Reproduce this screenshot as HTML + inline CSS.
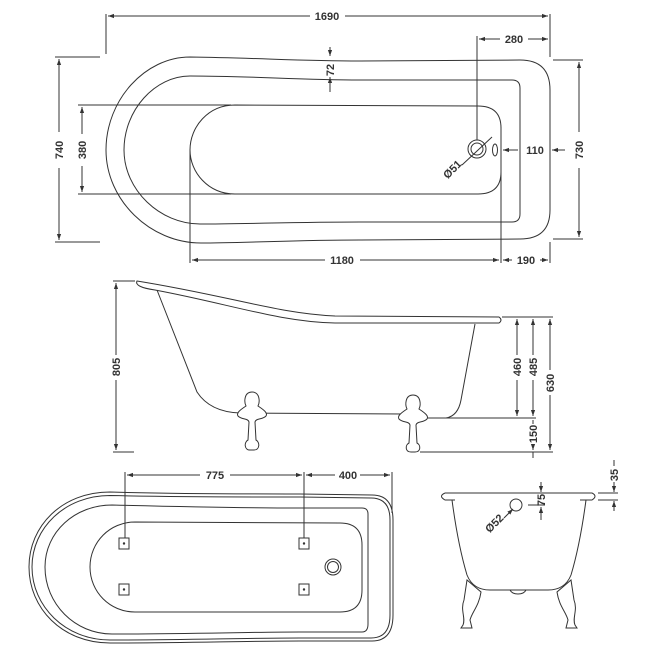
<!DOCTYPE html>
<html><head><meta charset="utf-8"><style>
html,body{margin:0;padding:0;background:#fff;}
svg{display:block;}
text{font-family:"Liberation Sans",sans-serif;font-size:11px;font-weight:bold;fill:#333;}
</style></head><body>
<svg width="650" height="650" viewBox="0 0 650 650" xmlns="http://www.w3.org/2000/svg">
<defs>
<marker id="a" viewBox="0 0 10 10" refX="10" refY="5" markerWidth="6" markerHeight="6" orient="auto-start-reverse"><path d="M0,1.5 L10,5 L0,8.5 Z" fill="#333"/></marker>
</defs>
<g fill="none" stroke="#333" stroke-width="1">
<!-- TOP VIEW -->
<path d="M190,57 C260,58 300,61 360,61 L520,60 Q550,60 550,90 L550,210 Q550,239 520,239 L360,240 C300,240 240,243 201,243 C150,243 106,200 106,150 C106,100 145,57 190,57 Z"/>
<path d="M190,76 C250,76 300,80 360,80 L512,80 Q520,80 520,88 L520,214 Q520,222 512,222 L360,222 C300,222 240,224 200,224 C160,224 124,190 124,150 C124,110 155,76 190,76 Z"/>
<path d="M235,105 L478,106 Q501,106 501,128 L501,172 Q501,194 478,194 L235,194 C208,194 190,172 190,150 C190,127 208,105 235,105 Z"/>
<circle cx="477" cy="149" r="9"/><circle cx="477" cy="149" r="6"/>
<ellipse cx="495" cy="150" rx="2.5" ry="6"/>
<line x1="462" y1="165" x2="492" y2="137"/>
<!-- top dims -->
<line x1="106" y1="14" x2="106" y2="54"/><line x1="550" y1="14" x2="550" y2="57"/>
<line x1="108" y1="16" x2="310" y2="16" marker-start="url(#a)"/><line x1="345" y1="16" x2="548" y2="16" marker-end="url(#a)"/>
<line x1="477" y1="36" x2="477" y2="140"/>
<line x1="479" y1="39" x2="500" y2="39" marker-start="url(#a)"/><line x1="528" y1="39" x2="548" y2="39" marker-end="url(#a)"/>
<line x1="330" y1="47" x2="330" y2="56" marker-end="url(#a)"/><line x1="330" y1="92" x2="330" y2="77" marker-end="url(#a)"/>
<line x1="55" y1="57" x2="100" y2="57"/><line x1="55" y1="242" x2="100" y2="242"/>
<line x1="59" y1="59" x2="59" y2="132" marker-start="url(#a)"/><line x1="59" y1="168" x2="59" y2="240" marker-end="url(#a)"/>
<line x1="78" y1="105" x2="231" y2="105"/><line x1="78" y1="194" x2="231" y2="194"/>
<line x1="82" y1="107" x2="82" y2="134" marker-start="url(#a)"/><line x1="82" y1="166" x2="82" y2="192" marker-end="url(#a)"/>
<line x1="553" y1="60" x2="583" y2="60"/><line x1="553" y1="239" x2="583" y2="239"/>
<line x1="579" y1="62" x2="579" y2="132" marker-start="url(#a)"/><line x1="579" y1="168" x2="579" y2="237" marker-end="url(#a)"/>
<line x1="501" y1="127" x2="501" y2="263"/>
<line x1="518" y1="150" x2="503" y2="150" marker-end="url(#a)"/><line x1="565" y1="150" x2="552" y2="150" marker-end="url(#a)"/>
<line x1="190" y1="150" x2="190" y2="263"/><line x1="550" y1="242" x2="550" y2="263"/>
<line x1="192" y1="260" x2="325" y2="260" marker-start="url(#a)"/><line x1="360" y1="260" x2="499" y2="260" marker-end="url(#a)"/>
<line x1="503" y1="260" x2="512" y2="260" marker-start="url(#a)"/><line x1="540" y1="260" x2="548" y2="260" marker-end="url(#a)"/>

<!-- SIDE VIEW -->
<path d="M137,281 C230,296 280,314 335,316 L499,317 Q503,320 499,323 L335,323 C280,322 230,304 155,290 Q134,287 137,281 Z"/>
<path d="M157,290 L197,392 Q210,412 240,413 L405,414"/>
<path d="M475,324 L461,400 Q458,416 446,418 L425,418"/>
<g fill="#fff">
<path d="M252,392 C244,392 244,402 246,406 C240,410 236,413 238,416 C242,420 248,418 249,422 L248,440 C244,442 244,450 250,450 L254,450 C260,450 260,442 256,440 L255,422 C256,418 262,420 266,416 C268,413 264,410 258,406 C260,402 260,392 252,392 Z"/>
<path d="M413,395 C405,395 405,405 407,409 C401,413 397,416 399,419 C403,423 409,421 410,425 L409,443 C405,445 405,452 411,452 L415,452 C421,452 421,445 417,443 L416,425 C417,421 423,423 427,419 C429,416 425,413 419,409 C421,405 421,395 413,395 Z"/>
</g>
<line x1="113" y1="281" x2="135" y2="281"/><line x1="113" y1="452" x2="134" y2="452"/>
<line x1="116" y1="283" x2="116" y2="355" marker-start="url(#a)"/><line x1="116" y1="380" x2="116" y2="450" marker-end="url(#a)"/>
<line x1="502" y1="317" x2="553" y2="317"/><line x1="432" y1="418" x2="536" y2="418"/><line x1="420" y1="452" x2="553" y2="452"/>
<line x1="517" y1="319" x2="517" y2="355" marker-start="url(#a)"/><line x1="517" y1="380" x2="517" y2="416" marker-end="url(#a)"/>
<line x1="533" y1="319" x2="533" y2="355" marker-start="url(#a)"/><line x1="533" y1="380" x2="533" y2="416" marker-end="url(#a)"/>
<line x1="533" y1="420" x2="533" y2="424"/><line x1="533" y1="444" x2="533" y2="450" marker-end="url(#a)"/><line x1="533" y1="452" x2="533" y2="458"/>
<line x1="550" y1="319" x2="550" y2="370" marker-start="url(#a)"/><line x1="550" y1="395" x2="550" y2="450" marker-end="url(#a)"/>

<!-- BOTTOM PLAN VIEW -->
<path d="M110,492 C180,494 250,494 300,494 L372,495 Q393,495 393,520 L393,615 Q393,641 372,641 L300,641 C250,641 180,643 110,643 C62,643 29,608 29,567 C29,526 62,492 110,492 Z"/>
<path d="M110,495.5 C180,497 250,497 300,497 L371,498 Q390,498 390,520 L390,615 Q390,638 371,638 L300,638 C250,638 180,640 110,640 C65,640 32,606 32,567 C32,528 65,495.5 110,495.5 Z"/>
<path d="M112,505 C190,507 250,508 300,508 L362,508 Q368,508 368,514 L368,624 Q368,632 362,632 L300,632 C250,632 190,634 112,634 C75,634 45,604 45,567 C45,532 75,505 112,505 Z"/>
<path d="M135,522 L340,523 Q362,523 362,545 L362,590 Q362,612 340,612 L135,612 C110,612 90,592 90,567 C90,542 110,522 135,522 Z"/>
<circle cx="333" cy="567" r="8"/><circle cx="333" cy="567" r="5.5"/>
<g>
<rect x="119" y="538" width="10" height="11"/><rect x="299" y="538" width="10" height="11"/>
<rect x="119" y="584" width="10" height="11"/><rect x="299" y="584" width="10" height="11"/>
</g>
<g fill="#333" stroke="none">
<circle cx="124" cy="543.5" r="1.2"/><circle cx="304" cy="543.5" r="1.2"/><circle cx="124" cy="589.5" r="1.2"/><circle cx="304" cy="589.5" r="1.2"/>
</g>
<line x1="125" y1="472" x2="125" y2="538"/><line x1="304" y1="472" x2="304" y2="538"/><line x1="392" y1="472" x2="392" y2="513"/>
<line x1="127" y1="475" x2="200" y2="475" marker-start="url(#a)"/><line x1="230" y1="475" x2="302" y2="475" marker-end="url(#a)"/>
<line x1="306" y1="475" x2="335" y2="475" marker-start="url(#a)"/><line x1="360" y1="475" x2="390" y2="475" marker-end="url(#a)"/>

<!-- END VIEW -->
<path d="M445,493 L592,493 Q598,496 592,500 L580,500"/>
<path d="M445,493 Q438,496 445,500 L455,500"/>
<path d="M452,500 Q458,545 467,575 Q473,590 490,590 L548,590 Q565,590 571,575 Q580,545 586,500"/>
<path d="M510,590 Q512,594 518,594 Q524,594 526,590"/>
<g fill="#fff">
<path d="M467,580 L464,600 C460,610 466,618 463,625 L461,628 L472,628 L470,620 C472,612 479,606 481,592 Z"/>
<path d="M571,580 L574,600 C578,610 572,618 575,625 L577,628 L566,628 L568,620 C566,612 559,606 557,592 Z"/>
</g>
<circle cx="516" cy="505" r="6"/>
<line x1="504" y1="518" x2="513" y2="509" marker-end="url(#a)"/>
<line x1="541" y1="482" x2="541" y2="492" marker-end="url(#a)"/><line x1="541" y1="520" x2="541" y2="507" marker-end="url(#a)"/>
<line x1="528" y1="505" x2="545" y2="505"/>
<line x1="598" y1="493" x2="618" y2="493"/><line x1="598" y1="500" x2="618" y2="500"/>
<line x1="614" y1="482" x2="614" y2="492" marker-end="url(#a)"/><line x1="614" y1="511" x2="614" y2="501" marker-end="url(#a)"/>
<line x1="614" y1="460" x2="614" y2="466"/>
</g>
<!-- labels -->
<text x="327" y="20" text-anchor="middle">1690</text>
<text x="514" y="43" text-anchor="middle">280</text>
<text transform="translate(334,70) rotate(-90)" text-anchor="middle">72</text>
<text transform="translate(63,150) rotate(-90)" text-anchor="middle">740</text>
<text transform="translate(86,150) rotate(-90)" text-anchor="middle">380</text>
<text transform="translate(583,150) rotate(-90)" text-anchor="middle">730</text>
<text x="535" y="154" text-anchor="middle">110</text>
<text transform="translate(455,172) rotate(-45)" text-anchor="middle">Ø51</text>
<text x="342" y="264" text-anchor="middle">1180</text>
<text x="526" y="264" text-anchor="middle">190</text>
<text transform="translate(120,367) rotate(-90)" text-anchor="middle">805</text>
<text transform="translate(521,367) rotate(-90)" text-anchor="middle">460</text>
<text transform="translate(537,367) rotate(-90)" text-anchor="middle">485</text>
<text transform="translate(554,383) rotate(-90)" text-anchor="middle">630</text>
<text transform="translate(537,434) rotate(-90)" text-anchor="middle">150</text>
<text x="215" y="479" text-anchor="middle">775</text>
<text x="348" y="479" text-anchor="middle">400</text>
<text transform="translate(497,526) rotate(-45)" text-anchor="middle">Ø52</text>
<text transform="translate(545,500) rotate(-90)" text-anchor="middle">75</text>
<text transform="translate(618,475) rotate(-90)" text-anchor="middle">35</text>
</svg>
</body></html>
